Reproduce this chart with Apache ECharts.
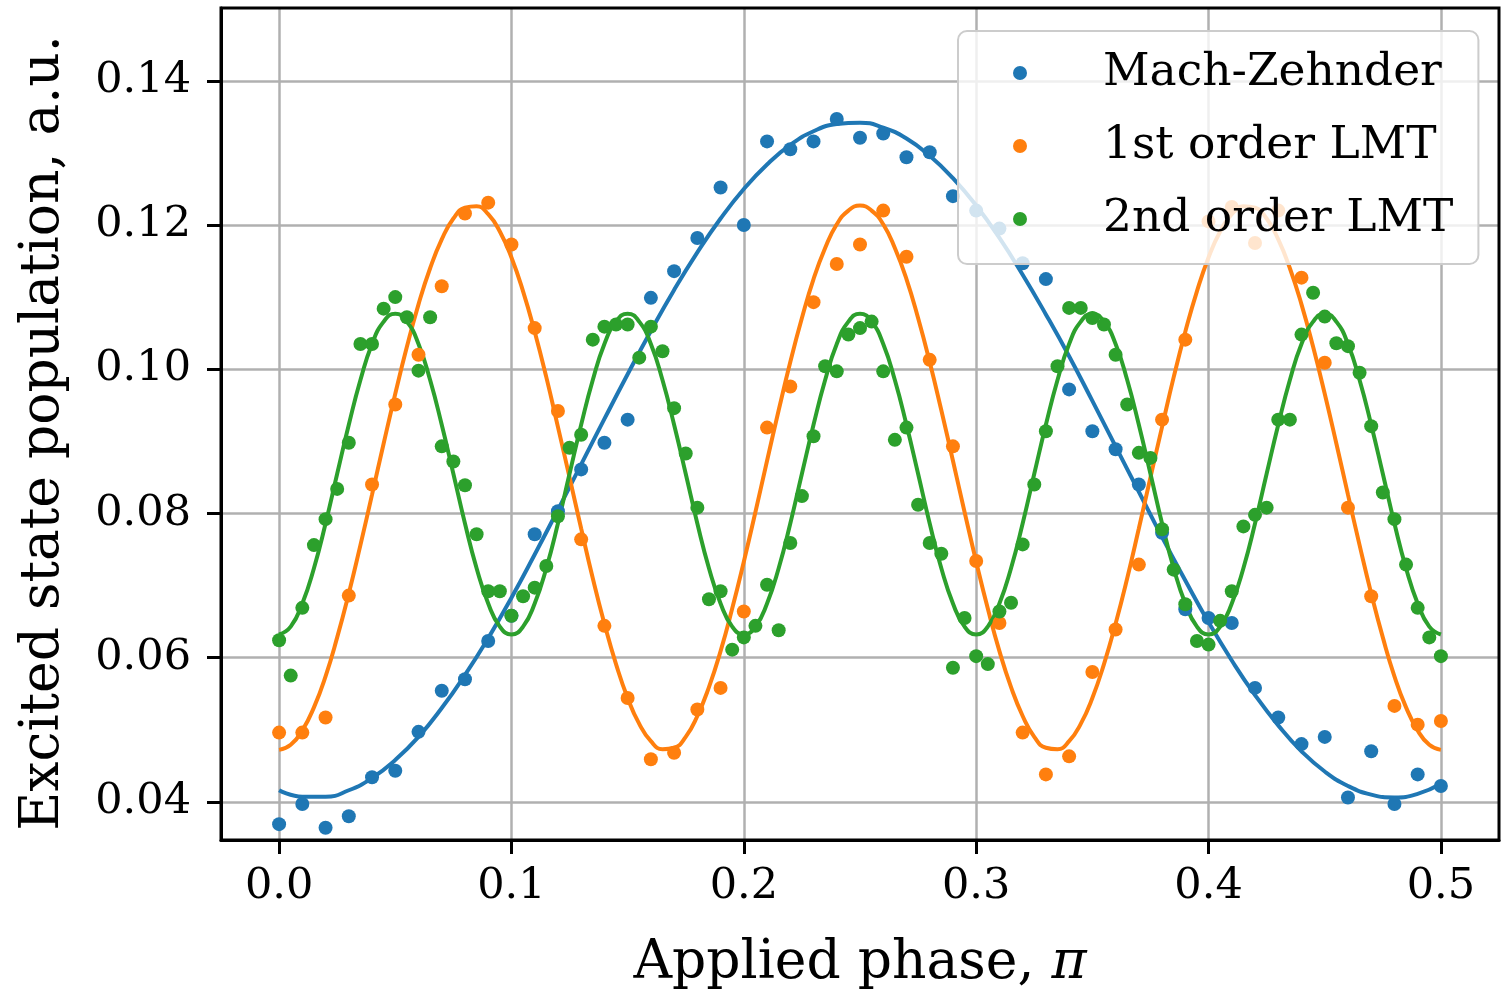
<!DOCTYPE html>
<html>
<head>
<meta charset="utf-8">
<script src="https://cdn.jsdelivr.net/npm/echarts@6/dist/echarts.min.js"></script>
<style>
  html, body { margin: 0; padding: 0; background: #ffffff; }
  #chart { width: 1503px; height: 995px; }
</style>
</head>
<body>
<div id="chart"></div>
<script>
// Applied phase (units of pi) for each measurement
const phaseCoarse = [0, 0.01, 0.02, 0.03, 0.04, 0.05, 0.06, 0.07, 0.08, 0.09,
  0.10, 0.11, 0.12, 0.13, 0.14, 0.15, 0.16, 0.17, 0.18, 0.19,
  0.20, 0.21, 0.22, 0.23, 0.24, 0.25, 0.26, 0.27, 0.28, 0.29,
  0.30, 0.31, 0.32, 0.33, 0.34, 0.35, 0.36, 0.37, 0.38, 0.39,
  0.40, 0.41, 0.42, 0.43, 0.44, 0.45, 0.46, 0.47, 0.48, 0.49, 0.50];

const phaseFine = [0, 0.005, 0.01, 0.015, 0.02, 0.025, 0.03, 0.035, 0.04, 0.045,
  0.05, 0.055, 0.06, 0.065, 0.07, 0.075, 0.08, 0.085, 0.09, 0.095,
  0.10, 0.105, 0.11, 0.115, 0.12, 0.125, 0.13, 0.135, 0.14, 0.145,
  0.15, 0.155, 0.16, 0.165, 0.17, 0.175, 0.18, 0.185, 0.19, 0.195,
  0.20, 0.205, 0.21, 0.215, 0.22, 0.225, 0.23, 0.235, 0.24, 0.245,
  0.25, 0.255, 0.26, 0.265, 0.27, 0.275, 0.28, 0.285, 0.29, 0.295,
  0.30, 0.305, 0.31, 0.315, 0.32, 0.325, 0.33, 0.335, 0.34, 0.345,
  0.35, 0.355, 0.36, 0.365, 0.37, 0.375, 0.38, 0.385, 0.39, 0.395,
  0.40, 0.405, 0.41, 0.415, 0.42, 0.425, 0.43, 0.435, 0.44, 0.445,
  0.45, 0.455, 0.46, 0.465, 0.47, 0.475, 0.48, 0.485, 0.49, 0.495, 0.50];

// Measured excited state population
const machZehnder = [0.0369, 0.0397, 0.0364, 0.0380, 0.0434, 0.0443, 0.0497, 0.0554, 0.0570, 0.0623,
  0.0658, 0.0771, 0.0803, 0.0861, 0.0898, 0.0930, 0.1099, 0.1136, 0.1182, 0.1252,
  0.1200, 0.1316, 0.1305, 0.1316, 0.1347, 0.1321, 0.1327, 0.1294, 0.1301, 0.1240,
  0.1220, 0.1195, 0.1147, 0.1125, 0.0972, 0.0914, 0.0889, 0.0840, 0.0773, 0.0667,
  0.0655, 0.0648, 0.0558, 0.0517, 0.0480, 0.0490, 0.0406, 0.0470, 0.0397, 0.0438, 0.0422];

const lmtFirst = [0.0496, 0.0496, 0.0517, 0.0686, 0.0840, 0.0951, 0.1020, 0.1115, 0.1216, 0.1231,
  0.1173, 0.1057, 0.0942, 0.0764, 0.0644, 0.0544, 0.0459, 0.0468, 0.0528, 0.0558,
  0.0664, 0.0919, 0.0976, 0.1093, 0.1146, 0.1173, 0.1220, 0.1156, 0.1013, 0.0893,
  0.0734, 0.0648, 0.0496, 0.0438, 0.0463, 0.0580, 0.0639, 0.0729, 0.0930, 0.1041,
  0.1205, 0.1225, 0.1175, 0.1220, 0.1127, 0.1009, 0.0808, 0.0685, 0.0533, 0.0507, 0.0512];

const lmtSecond = [0.0624, 0.0575, 0.0669, 0.0756, 0.0792, 0.0834, 0.0898, 0.1035, 0.1035, 0.1084,
  0.1100, 0.1072, 0.0998, 0.1072, 0.0893, 0.0872, 0.0839, 0.0771, 0.0692, 0.0692,
  0.0658, 0.0685, 0.0697, 0.0727, 0.0796, 0.0891, 0.0909, 0.1041, 0.1059, 0.1062,
  0.1062, 0.1016, 0.1059, 0.1025, 0.0946, 0.0883, 0.0808, 0.0681, 0.0692, 0.0611,
  0.0628, 0.0644, 0.0701, 0.0638, 0.0759, 0.0824, 0.0907, 0.1004, 0.0997, 0.1048,
  0.1057, 0.1066, 0.0997, 0.0902, 0.0919, 0.0812, 0.0759, 0.0744, 0.0586, 0.0655,
  0.0602, 0.0591, 0.0664, 0.0676, 0.0757, 0.0840, 0.0914, 0.1004, 0.1085, 0.1085,
  0.1071, 0.1062, 0.1020, 0.0951, 0.0884, 0.0877, 0.0778, 0.0722, 0.0674, 0.0623,
  0.0618, 0.0651, 0.0692, 0.0782, 0.0798, 0.0808, 0.0930, 0.0930, 0.1048, 0.1106,
  0.1073, 0.1036, 0.1032, 0.0995, 0.0921, 0.0829, 0.0792, 0.0729, 0.0669, 0.0628, 0.0602];

// Sinusoidal fits
const fitMachZehnder = [0.0416, 0.0407, 0.0407, 0.0416, 0.0433, 0.0458, 0.0490, 0.0530, 0.0576, 0.0627,
  0.0683, 0.0743, 0.0805, 0.0868, 0.0931, 0.0993, 0.1053, 0.1110, 0.1162, 0.1209,
  0.1250, 0.1284, 0.1311, 0.1330, 0.1340, 0.1342, 0.1335, 0.1320, 0.1296, 0.1265,
  0.1227, 0.1182, 0.1131, 0.1076, 0.1018, 0.0956, 0.0893, 0.0830, 0.0767, 0.0707,
  0.0649, 0.0596, 0.0548, 0.0506, 0.0470, 0.0442, 0.0422, 0.0410, 0.0406, 0.0411, 0.0425];

const fitLmtFirst = [0.0472, 0.0479, 0.0499, 0.0531, 0.0574, 0.0628, 0.0689, 0.0756, 0.0826, 0.0897,
  0.0966, 0.1031, 0.1090, 0.1140, 0.1180, 0.1209, 0.1224, 0.1226, 0.1215, 0.1191,
  0.1155, 0.1108, 0.1052, 0.0989, 0.0920, 0.0850, 0.0779, 0.0710, 0.0647, 0.0591,
  0.0544, 0.0508, 0.0484, 0.0473, 0.0475, 0.0490, 0.0519, 0.0559, 0.0609, 0.0668,
  0.0733, 0.0802, 0.0873, 0.0943, 0.1010, 0.1071, 0.1125, 0.1168, 0.1201, 0.1220,
  0.1227, 0.1220, 0.1201, 0.1168, 0.1125, 0.1071, 0.1010, 0.0943, 0.0873, 0.0802,
  0.0733, 0.0668, 0.0609, 0.0559, 0.0519, 0.0490, 0.0475, 0.0473, 0.0484, 0.0508,
  0.0544, 0.0591, 0.0647, 0.0710, 0.0779, 0.0850, 0.0920, 0.0989, 0.1052, 0.1108,
  0.1155, 0.1191, 0.1215, 0.1226, 0.1224, 0.1209, 0.1180, 0.1140, 0.1090, 0.1031,
  0.0966, 0.0897, 0.0826, 0.0756, 0.0689, 0.0628, 0.0574, 0.0531, 0.0499, 0.0479, 0.0472];

const fitLmtSecond = [0.0632, 0.0643, 0.0675, 0.0724, 0.0786, 0.0855, 0.0923, 0.0985, 0.1035, 0.1066,
  0.1077, 0.1066, 0.1035, 0.0985, 0.0923, 0.0855, 0.0786, 0.0724, 0.0675, 0.0643,
  0.0632, 0.0643, 0.0675, 0.0724, 0.0786, 0.0855, 0.0923, 0.0985, 0.1035, 0.1066,
  0.1077, 0.1066, 0.1035, 0.0985, 0.0923, 0.0855, 0.0786, 0.0724, 0.0675, 0.0643,
  0.0632, 0.0643, 0.0675, 0.0724, 0.0786, 0.0855, 0.0923, 0.0985, 0.1035, 0.1066,
  0.1077, 0.1066, 0.1035, 0.0985, 0.0923, 0.0855, 0.0786, 0.0724, 0.0675, 0.0643,
  0.0632, 0.0643, 0.0675, 0.0724, 0.0786, 0.0855, 0.0923, 0.0985, 0.1035, 0.1066,
  0.1077, 0.1066, 0.1035, 0.0985, 0.0923, 0.0855, 0.0786, 0.0724, 0.0675, 0.0643,
  0.0632, 0.0643, 0.0675, 0.0724, 0.0786, 0.0855, 0.0923, 0.0985, 0.1035, 0.1066,
  0.1077, 0.1066, 0.1035, 0.0985, 0.0923, 0.0855, 0.0786, 0.0724, 0.0675, 0.0643, 0.0632];

const seriesNames = ['Mach-Zehnder', '1st order LMT', '2nd order LMT'];
const xTicks = [0, 0.1, 0.2, 0.3, 0.4, 0.5];
const yTicks = [0.04, 0.06, 0.08, 0.10, 0.12, 0.14];

const colors = ['#1f77b4', '#ff7f0e', '#2ca02c'];
const FONT = 'DejaVu Serif';
const TICK_FS = 43;
const LEGEND_FS = 45.5;
const TITLE_FS = 53.5;

function pairs(xs, ys) { return xs.map((x, i) => [x, ys[i]]); }

function points(name, xs, ys, color) {
  return {
    name: name, type: 'scatter', data: pairs(xs, ys),
    symbol: 'circle', symbolSize: 14,
    itemStyle: { color: color, opacity: 1 }, z: 2, silent: true
  };
}
function fit(xs, ys, color) {
  return {
    type: 'line', data: pairs(xs, ys), smooth: true, showSymbol: false,
    lineStyle: { color: color, width: 4 }, z: 2, silent: true
  };
}

const axisLineStyle = { color: '#000', width: 3 };
const chart = echarts.init(document.getElementById('chart'), null, { renderer: 'canvas' });
chart.setOption({
  animation: false,
  backgroundColor: '#ffffff',
  grid: { left: 221, top: 8, width: 1278, height: 832, containLabel: false, outerBoundsMode: 'none' },
  xAxis: {
    type: 'value', min: -0.025, max: 0.525,
    name: 'Applied phase, {i|π}', nameLocation: 'middle', nameGap: 97,
    nameTextStyle: { fontFamily: FONT, fontSize: TITLE_FS, color: '#000',
      rich: { i: { fontFamily: FONT, fontSize: TITLE_FS, fontStyle: 'italic', color: '#000' } } },
    axisLine: { show: true, onZero: false, lineStyle: axisLineStyle },
    axisTick: { show: true, length: 14, lineStyle: { color: '#000', width: 3 }, customValues: xTicks },
    axisLabel: { fontFamily: FONT, fontSize: TICK_FS, color: '#000', margin: 25,
      customValues: xTicks, formatter: v => v.toFixed(1) },
    splitLine: { show: true, lineStyle: { color: '#b0b0b0', width: 2.5 } }
  },
  yAxis: {
    type: 'value', min: 0.0347, max: 0.1501,
    name: 'Excited state population, a.u.', nameLocation: 'middle', nameGap: 150,
    nameTextStyle: { fontFamily: FONT, fontSize: TITLE_FS, color: '#000', padding: [0, 18, 0, 0] },
    axisLine: { show: true, onZero: false, lineStyle: axisLineStyle },
    axisTick: { show: true, length: 14, lineStyle: { color: '#000', width: 3 }, customValues: yTicks },
    axisLabel: { fontFamily: FONT, fontSize: TICK_FS, color: '#000', margin: 30,
      customValues: yTicks, formatter: v => v.toFixed(2) },
    splitLine: { show: true, lineStyle: { color: '#b0b0b0', width: 2.5 } }
  },
  legend: {
    data: seriesNames.map(n => ({ name: n, icon: 'circle' })),
    orient: 'vertical', left: 958, top: 31,
    itemWidth: 14, itemHeight: 14, itemGap: 21,
    padding: [16, 25, 19, 55],
    backgroundColor: 'rgba(255,255,255,0.8)',
    borderColor: '#cccccc', borderWidth: 2, borderRadius: 9,
    formatter: n => '{gap|}' + n,
    textStyle: { fontFamily: FONT, fontSize: LEGEND_FS, color: '#000', lineHeight: 52,
      rich: { gap: { width: 71 } } },
    selectedMode: false, z: 10
  },
  series: [
    points(seriesNames[0], phaseCoarse, machZehnder, colors[0]),
    fit(phaseCoarse, fitMachZehnder, colors[0]),
    points(seriesNames[1], phaseCoarse, lmtFirst, colors[1]),
    fit(phaseFine, fitLmtFirst, colors[1]),
    points(seriesNames[2], phaseFine, lmtSecond, colors[2]),
    fit(phaseFine, fitLmtSecond, colors[2])
  ]
});

// Box frame: top and right spines along the grid edges
const rect = chart.getModel().getComponent('grid').coordinateSystem.getRect();
chart.setOption({
  graphic: [{
    type: 'rect', silent: true, z: 5,
    shape: { x: rect.x, y: rect.y, width: rect.width, height: rect.height },
    style: { fill: 'none', stroke: '#000', lineWidth: 3 }
  }]
});
</script>
</body>
</html>
